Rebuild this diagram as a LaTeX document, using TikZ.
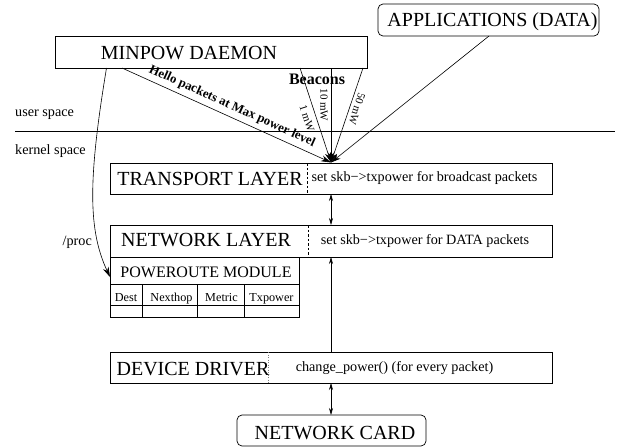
\documentclass[tikz,border=0pt]{standalone}
\usepackage{fontspec}
\setmainfont{Liberation Serif}
\usetikzlibrary{arrows.meta}
\tikzset{
  x=1pt,y=-1pt,
  box/.style={draw,line width=0.7pt,anchor=north west,inner sep=0pt,outer sep=0pt},
  bigtext/.style={font=\fontsize{20}{22}\selectfont,inner sep=0pt},
  modtext/.style={font=\fontsize{16}{18}\selectfont,inner sep=0pt},
  smalltext/.style={font=\fontsize{14.2}{16}\selectfont,inner sep=0pt},
  celltext/.style={font=\fontsize{12.2}{14}\selectfont,inner sep=0pt,anchor=base},
  mwtext/.style={font=\fontsize{11}{13}\selectfont,inner sep=0pt},
  conn/.style={line width=0.6pt,-{Stealth[length=10pt,width=6pt]}},
  upconn/.style={line width=0.6pt,-{Stealth[length=7pt,width=4pt]}},
  biconn/.style={line width=0.6pt,{Stealth[length=7pt,width=4pt]}-{Stealth[length=7pt,width=4pt]}},
  plainline/.style={line width=0.7pt}
}
\begin{document}
\begin{tikzpicture}
\useasboundingbox (0,0) rectangle (621,447);
% boxes
\node[box,minimum width=312pt,minimum height=32pt] (daemon) at (55,36) {};
\node[bigtext] (daemontext) at (189,53) {MINPOW DAEMON};
\node[box,rounded corners=5pt,minimum width=221pt,minimum height=32pt] (apps) at (378,4) {};
\node[bigtext] (appstext) at (492.5,22) {APPLICATIONS (DATA)};
\node[box,minimum width=442pt,minimum height=31pt] (transport) at (110,163) {};
\node[bigtext] (transporttext) at (210,179) {TRANSPORT LAYER};
\node[smalltext] (transportnote) at (424.5,178) {set skb−>txpower for broadcast packets};
\node[box,minimum width=442pt,minimum height=32pt] (network) at (110,225) {};
\node[bigtext] (networktext) at (206,240) {NETWORK LAYER};
\node[smalltext] (networknote) at (425,241) {set skb−>txpower for DATA packets};
\node[box,minimum width=189pt,minimum height=27pt] (poweroute) at (110,257) {};
\node[modtext] (powertext) at (206,272) {POWEROUTE MODULE};
\node[box,minimum width=32pt,minimum height=21pt] (c1) at (110,284) {};
\node[box,minimum width=55pt,minimum height=21pt] (c2) at (142,284) {};
\node[box,minimum width=47pt,minimum height=21pt] (c3) at (197,284) {};
\node[box,minimum width=55pt,minimum height=21pt] (c4) at (244,284) {};
\node[box,minimum width=32pt,minimum height=12pt] (d1) at (110,305) {};
\node[box,minimum width=55pt,minimum height=12pt] (d2) at (142,305) {};
\node[box,minimum width=47pt,minimum height=12pt] (d3) at (197,305) {};
\node[box,minimum width=55pt,minimum height=12pt] (d4) at (244,305) {};
\node[celltext] (t1) at (126,301) {Dest};
\node[celltext] (t2) at (171.5,301) {Nexthop};
\node[celltext] (t3) at (221.5,301) {Metric};
\node[celltext] (t4) at (271.5,301) {Txpower};
\node[box,minimum width=442pt,minimum height=31pt] (driver) at (110,352) {};
\node[bigtext] (drivertext) at (193,369) {DEVICE DRIVER};
\node[smalltext] (drivernote) at (394.5,368) {change\_power() (for every packet)};
\node[box,rounded corners=5pt,minimum width=189pt,minimum height=31pt] (card) at (237,415) {};
\node[bigtext] (cardtext) at (335,433) {NETWORK CARD};
% dividers
\draw[line width=0.6pt,dash pattern=on 2.5pt off 2pt] (307,163) -- (307,194);
\draw[line width=0.6pt,dash pattern=on 2.5pt off 2pt] (308,225) -- (308,257);
\draw[dotted,line width=0.5pt,gray] (268,352) -- (268,383);
% separator
\coordinate (sepl) at (15,131);
\coordinate (sepr) at (615,131);
\draw[plainline] (sepl) -- (sepr);
\node[smalltext,anchor=west] (user) at (15,115) {user space};
\node[smalltext,anchor=west] (kernel) at (15,151) {kernel space};
\node[smalltext,anchor=east] (proc) at (92,242) {/proc};
% arrows
\coordinate (hub) at (331,162.5);
\coordinate (h0) at (122,68);
\coordinate (b1) at (300,68);
\coordinate (b2) at (331,68);
\coordinate (b3) at (363,68);
\coordinate (a0) at (489,36);
\draw[conn] (h0) -- (hub);
\draw[conn] (b1) -- (hub);
\draw[conn] (b2) -- (hub);
\draw[conn] (b3) -- (hub);
\draw[conn] (a0) -- (hub);
\draw[biconn] (transport.south -| hub) -- (network.north -| hub);
\draw[upconn] (driver.north -| hub) -- (network.south -| hub);
\draw[biconn] (driver.south -| hub) -- (card.north -| hub);
\coordinate (p0) at (106.5,68);
\coordinate (p1) at (110,277);
\draw[conn] (p0) .. controls (88,180) and (88,230) .. (p1);
% rotated labels
\node[font=\bfseries\fontsize{12.8}{14}\selectfont,inner sep=0,rotate=-24.3] (hello) at (232,106.5) {Hello packets at Max power level};
\node[font=\bfseries\fontsize{16}{18}\selectfont,inner sep=0] (beacons) at (317,79) {Beacons};
\node[mwtext,rotate=-72] (mw1) at (307,118) {1 mW};
\node[mwtext,rotate=-90] (mw10) at (324,105) {10 mW};
\node[mwtext,rotate=-108] (mw50) at (357,109) {50 mW};
\end{tikzpicture}
\end{document}
